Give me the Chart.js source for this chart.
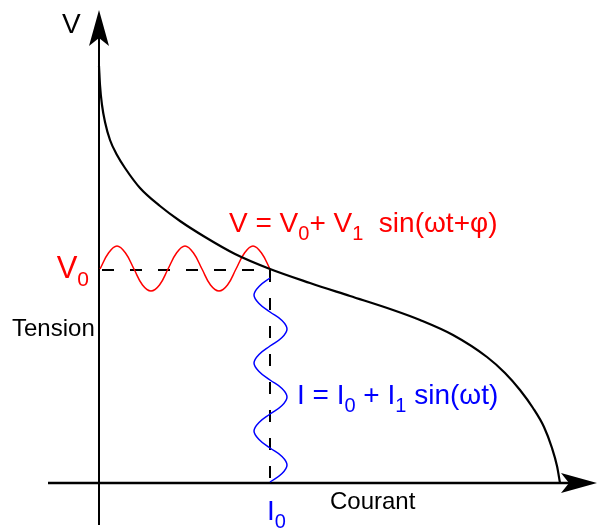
<!DOCTYPE html>
<html>
<head>
<meta charset="utf-8">
<script src="https://cdn.jsdelivr.net/npm/chart.js@4/dist/chart.umd.min.js"></script>
<style>
  body { margin: 0; background: #fff; }
  canvas { display: block; }
</style>
</head>
<body>
<canvas id="ivChart" width="597" height="529"></canvas>
<script>
// I-V characteristic, arbitrary units
const curveCurrent = [0, 0.1, 0.3, 0.6, 1.1, 1.8, 2.6, 4.1, 6.1, 8.1, 10.6, 13.6, 17.1, 21.1, 25.1, 29.4, 32.1, 35.4, 38.8, 40.6, 42.1, 43.4, 44.5, 45.3, 45.8, 46.1];
const curveVoltage = [41.7, 39.8, 37.8, 36.1, 34.3, 32.8, 31.5, 29.5, 27.7, 26.2, 24.6, 22.9, 21.4, 20.0, 18.7, 17.3, 16.3, 14.8, 12.6, 11.0, 9.3, 7.5, 5.6, 3.5, 1.7, 0];

// operating point
const V0 = 21.3;
const I0 = 17.1;

// voltage ripple (red)
const redCurrent = [0.1, 0.95, 1.8, 2.65, 3.5, 4.35, 5.2, 6.05, 6.9, 7.75, 8.6, 9.45, 10.3, 11.15, 12.0, 12.85, 13.7, 14.55, 15.4, 16.25, 17.1];
const redVoltage = [21.4, 23.0, 23.7, 23.0, 21.4, 19.8, 19.2, 19.8, 21.4, 23.0, 23.7, 23.0, 21.4, 19.8, 19.2, 19.8, 21.4, 23.0, 23.7, 23.0, 21.4];

// current ripple (blue), runs downwards
const blueVoltage = [20.5, 19.65, 18.8, 17.95, 17.1, 16.25, 15.4, 14.55, 13.7, 12.85, 12.0, 11.15, 10.3, 9.45, 8.6, 7.75, 6.9, 6.05, 5.2, 4.35, 3.5, 2.65, 1.8, 0.95, 0.1];
const blueCurrent = [17.1, 16.0, 15.5, 16.0, 17.1, 18.3, 18.8, 18.3, 17.1, 16.0, 15.5, 16.0, 17.1, 18.3, 18.8, 18.3, 17.1, 16.0, 15.5, 16.0, 17.1, 18.3, 18.8, 18.3, 17.1];

// axis extents
const xAxisRange = [-5.1, 49.8];
const yAxisRange = [-4.2, 47.3];

const FONT = '"Liberation Sans", Arial, sans-serif';

function toPoints(xs, ys) {
  return xs.map((x, i) => ({ x: x, y: ys[i] }));
}

// draw text with subscripts, parts = [[text, isSub], ...]
function drawRich(ctx, parts, x, y, size, subSize, color, align) {
  ctx.fillStyle = color;
  ctx.textBaseline = 'alphabetic';
  ctx.textAlign = 'left';
  let width = 0;
  parts.forEach(([txt, sub]) => {
    ctx.font = `${sub ? subSize : size}px ${FONT}`;
    width += ctx.measureText(txt).width;
  });
  if (align === 'right') x -= width;
  parts.forEach(([txt, sub]) => {
    ctx.font = `${sub ? subSize : size}px ${FONT}`;
    ctx.fillText(txt, x, sub ? y + 8 : y);
    x += ctx.measureText(txt).width;
  });
}

function arrowHead(ctx, tipX, tipY, dir) {
  // dir: 'up' or 'right'
  const len = 36, half = 10, notch = 8;
  ctx.beginPath();
  if (dir === 'up') {
    ctx.moveTo(tipX, tipY);
    ctx.lineTo(tipX + half, tipY + len);
    ctx.lineTo(tipX, tipY + len - notch);
    ctx.lineTo(tipX - half, tipY + len);
  } else {
    ctx.moveTo(tipX, tipY);
    ctx.lineTo(tipX - len, tipY - half);
    ctx.lineTo(tipX - len + notch, tipY);
    ctx.lineTo(tipX - len, tipY + half);
  }
  ctx.closePath();
  ctx.fill();
}

const diagramPlugin = {
  id: 'diagram',
  beforeDatasetsDraw(chart) {
    const ctx = chart.ctx;
    const xs = chart.scales.x, ys = chart.scales.y;
    const ox = xs.getPixelForValue(0), oy = ys.getPixelForValue(0);
    ctx.save();
    ctx.strokeStyle = '#000';
    ctx.fillStyle = '#000';

    // axes
    ctx.lineWidth = 2;
    ctx.beginPath();
    ctx.moveTo(ox, ys.getPixelForValue(yAxisRange[0]));
    ctx.lineTo(ox, ys.getPixelForValue(yAxisRange[1]) + 20);
    ctx.stroke();
    ctx.lineWidth = 2.5;
    ctx.beginPath();
    ctx.moveTo(xs.getPixelForValue(xAxisRange[0]), oy);
    ctx.lineTo(xs.getPixelForValue(xAxisRange[1]) - 20, oy);
    ctx.stroke();
    arrowHead(ctx, ox, ys.getPixelForValue(yAxisRange[1]), 'up');
    arrowHead(ctx, xs.getPixelForValue(xAxisRange[1]), oy, 'right');

    // dashed guides to the operating point
    const px = xs.getPixelForValue(I0), py = ys.getPixelForValue(V0);
    ctx.lineWidth = 2;
    ctx.setLineDash([12, 16]);
    ctx.beginPath();
    ctx.moveTo(ox + 3, py);
    ctx.lineTo(px, py);
    ctx.stroke();
    ctx.beginPath();
    ctx.moveTo(px, py);
    ctx.lineTo(px, oy);
    ctx.stroke();
    ctx.restore();
  },
  afterDatasetsDraw(chart) {
    const ctx = chart.ctx;
    const xs = chart.scales.x, ys = chart.scales.y;
    const X = v => xs.getPixelForValue(v), Y = v => ys.getPixelForValue(v);
    ctx.save();
    drawRich(ctx, [['V', 0]], X(-3.7), Y(45.0), 28, 20, '#000');
    drawRich(ctx, [['Tension', 0]], X(-8.7), Y(14.7), 24, 16, '#000');
    drawRich(ctx, [['Courant', 0]], X(23.1), Y(-2.6), 24, 16, '#000');
    drawRich(ctx, [['V', 0], ['0', 1]], X(-1.0), Y(V0) + 8, 31, 21, '#ff0000', 'right');
    drawRich(ctx, [['I', 0], ['0', 1]], X(I0) - 3, Y(-3.7), 28, 20, '#0000ff');
    drawRich(ctx, [['V = V', 0], ['0', 1], ['+ V', 0], ['1', 1], ['  sin(\u03c9t+\u03c6)', 0]],
      X(13.0), Y(25.1), 28, 20, '#ff0000');
    drawRich(ctx, [['I = I', 0], ['0', 1], [' + I', 0], ['1', 1], [' sin(\u03c9t)', 0]],
      X(19.8), Y(7.9), 28, 20, '#0000ff');
    ctx.restore();
  }
};

const ctx = document.getElementById('ivChart').getContext('2d');
const ivChart = new Chart(ctx, {
  type: 'scatter',
  data: {
    datasets: [
      {
        data: toPoints(curveCurrent, curveVoltage),
        showLine: true,
        borderColor: '#000',
        borderWidth: 2.2,
        pointRadius: 0,
        pointHoverRadius: 0,
        cubicInterpolationMode: 'monotone'
      },
      {
        data: toPoints(redCurrent, redVoltage),
        showLine: true,
        borderColor: '#ff0000',
        borderWidth: 1.5,
        pointRadius: 0,
        pointHoverRadius: 0,
        tension: 0.4
      },
      {
        data: toPoints(blueCurrent, blueVoltage),
        showLine: true,
        borderColor: '#0000ff',
        borderWidth: 1.5,
        pointRadius: 0,
        pointHoverRadius: 0,
        tension: 0.4
      }
    ]
  },
  options: {
    responsive: false,
    animation: false,
    layout: { padding: 0 },
    scales: {
      x: { type: 'linear', min: -9.9, max: 49.8, display: false },
      y: { type: 'linear', min: -4.6, max: 48.3, display: false }
    },
    plugins: {
      legend: { display: false },
      tooltip: { enabled: false }
    }
  },
  plugins: [diagramPlugin]
});
</script>
</body>
</html>
